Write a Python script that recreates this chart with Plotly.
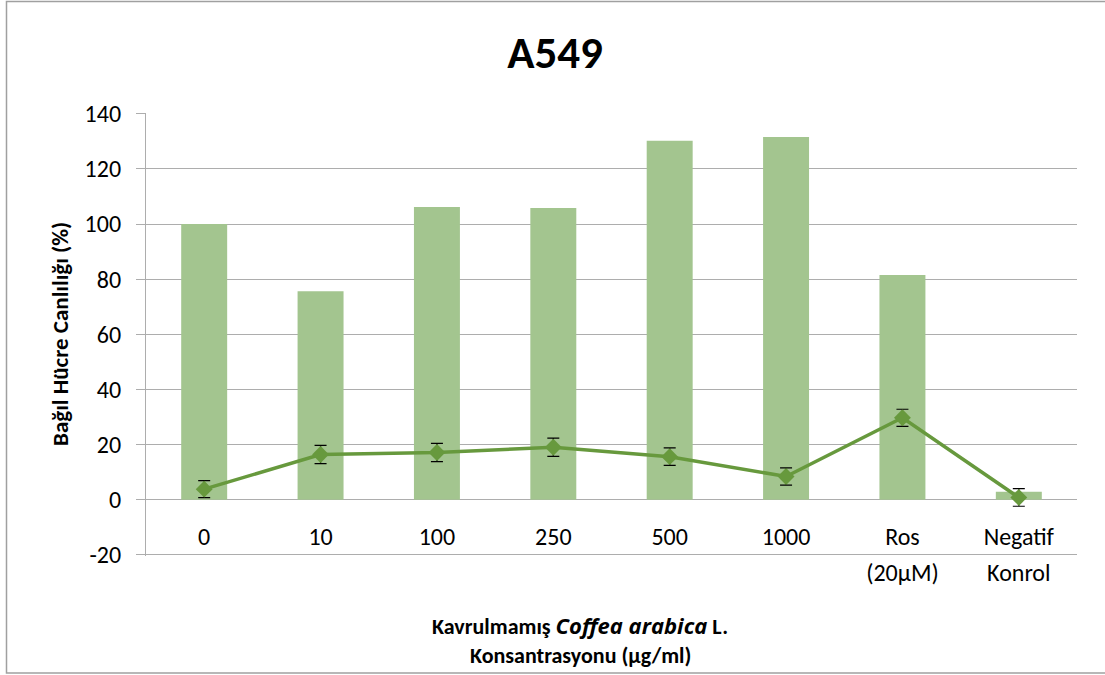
import plotly.graph_objects as go

categories = ["0", "10", "100", "250", "500", "1000", "Ros", "Negatif"]
labels_line1 = ["0", "10", "100", "250", "500", "1000", "Ros", "Negatif"]
labels_line2 = ["", "", "", "", "", "", "(20µM)", "Konrol"]
bar_values = [100, 75.6, 106.2, 105.8, 130.2, 131.6, 81.5, 2.9]
line_values = [3.8, 16.4, 17.1, 19.0, 15.6, 8.4, 29.7, 0.8]
line_errors = [3.1, 3.3, 3.3, 3.3, 3.2, 3.1, 3.1, 3.2]
y_ticks = [-20, 0, 20, 40, 60, 80, 100, 120, 140]

FONT = "Carlito, Lato, sans-serif"
BAR_COLOR = "#A3C58F"
LINE_COLOR = "#67993D"
GRID = "#ADADAD"

fig = go.Figure()
fig.add_trace(go.Bar(
    x=categories, y=bar_values, marker=dict(color=BAR_COLOR, line=dict(width=0)),
    width=0.395, showlegend=False, hoverinfo="y"))
fig.add_trace(go.Scatter(
    x=categories, y=line_values, mode="lines+markers",
    line=dict(color=LINE_COLOR, width=3.5),
    marker=dict(symbol="diamond", size=13, color=LINE_COLOR),
    error_y=dict(type="data", array=line_errors, visible=True,
                 color="black", thickness=1.2, width=6),
    showlegend=False))

# invisible trace on second x axis for second line of labels
fig.add_trace(go.Scatter(x=categories, y=[None]*len(categories), xaxis="x2",
                         showlegend=False, hoverinfo="skip"))

l, r, t, b = 146, 28, 113, 119
W, H = 1105, 675
ph = H - t - b
pw = W - l - r
y_min, y_max = -20.45, 140.3
zero_pos = (0 - y_min) / (y_max - y_min)

fig.update_layout(
    width=W, height=H,
    margin=dict(l=l, r=r, t=t, b=b, autoexpand=False),
    paper_bgcolor="white", plot_bgcolor="white",
    font=dict(family=FONT, color="black"),
    title=dict(text="<b>A549</b>", x=555 / W, xanchor="center",
               y=1 - 52 / H, yanchor="middle",
               font=dict(family=FONT, size=45, color="black")),
    xaxis=dict(
        type="category", categoryorder="array", categoryarray=categories,
        range=[-0.5, len(categories) - 0.5],
        tickvals=categories, ticktext=labels_line1,
        anchor="free", position=zero_pos,
        showline=False, showgrid=False, zeroline=False, ticks="",
        ticklabelstandoff=20,
        tickfont=dict(family=FONT, size=24, color="black")),
    xaxis2=dict(
        type="category", categoryorder="array", categoryarray=categories,
        range=[-0.5, len(categories) - 0.5], overlaying="x",
        tickvals=categories, ticktext=labels_line2,
        anchor="free", position=zero_pos - 36.0 / ph, side="bottom",
        showline=False, showgrid=False, zeroline=False, ticks="",
        ticklabelstandoff=20,
        tickfont=dict(family=FONT, size=24, color="black")),
    yaxis=dict(
        range=[y_min, y_max], tickvals=y_ticks, ticktext=[str(v) for v in y_ticks],
        showgrid=True, gridcolor=GRID, gridwidth=1.2,
        zeroline=True, zerolinecolor=GRID, zerolinewidth=1.2,
        showline=True, linecolor=GRID, linewidth=1.2,
        ticks="outside", ticklen=9, tickcolor=GRID, tickwidth=1.2,
        ticklabelstandoff=10,
        tickfont=dict(family=FONT, size=24, color="black")),
)

# y-axis title
fig.add_annotation(text="<b>Bağıl Hücre Canlılığı (%)</b>", textangle=-90,
                   xref="paper", yref="paper", x=(60 - l) / pw, y=(H - b - 334) / ph,
                   xanchor="center", yanchor="middle", showarrow=False,
                   font=dict(family=FONT, size=23, color="black"))

# x-axis title (two lines)
fig.add_annotation(
    text="<b>Kavrulmamış <span style=\"font-family:'Open Sans'\"><i>Coffea arabica</i></span> L.</b>",
    xref="paper", yref="paper", x=(580 - l) / pw, y=(H - b - 625) / ph,
    xanchor="center", yanchor="middle", showarrow=False,
    font=dict(family=FONT, size=22, color="black"))
fig.add_annotation(text="<b>Konsantrasyonu (µg/ml)</b>",
                   xref="paper", yref="paper", x=(580 - l) / pw, y=(H - b - 655) / ph,
                   xanchor="center", yanchor="middle", showarrow=False,
                   font=dict(family=FONT, size=22, color="black"))

# chart-area border
fig.add_shape(type="rect", xref="paper", yref="paper",
              x0=(6.5 - l) / pw, x1=(1112 - l) / pw,
              y0=(H - b - 673) / ph, y1=(H - b - 1.5) / ph,
              line=dict(color="#A0A0A0", width=1.5), fillcolor="rgba(0,0,0,0)",
              layer="below")

fig.write_html("out.html", config={"displayModeBar": False},
               post_script="document.body.style.margin='0';document.body.style.overflow='hidden';")
